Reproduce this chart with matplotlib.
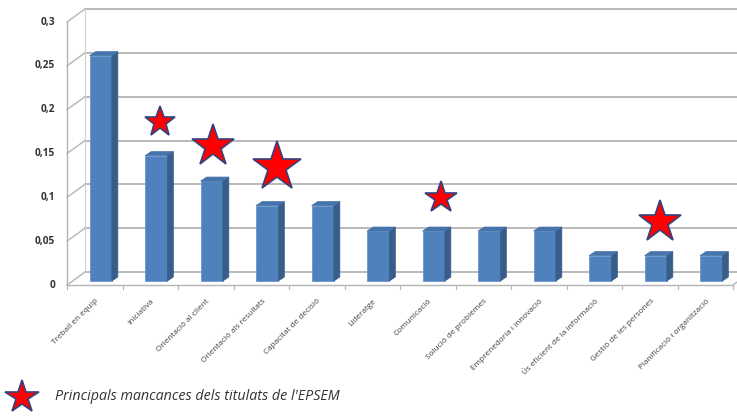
import matplotlib
matplotlib.use("Agg")
import matplotlib.pyplot as plt
import numpy as np
from matplotlib.transforms import offset_copy, IdentityTransform
from matplotlib.patches import Polygon
from matplotlib.lines import Line2D

# ---------------- data ----------------
categories = [
    "Treball en equip", "Iniciativa", "Orientació al client",
    "Orientació als resultats", "Capacitat de decisió", "Lideratge",
    "Comunicació", "Solució de problemes", "Emprenedoria i innovació",
    "Ús eficient de la informació", "Gestió de les persones",
    "Planificació i organització",
]
values = [0.257, 0.143, 0.114, 0.086, 0.086, 0.057, 0.057, 0.057, 0.057,
          0.029, 0.029, 0.029]
y_ticks = [0, 0.05, 0.1, 0.15, 0.2, 0.25, 0.3]
y_ticklabels = ["0", "0,05", "0,1", "0,15", "0,2", "0,25", "0,3"]

# stars marking main shortcomings (category position, height)
star_x = [1.18, 2.13, 3.28, 6.24, 10.18]
star_y = [0.1865, 0.158, 0.135, 0.0995, 0.072]
star_sizes = [23, 32, 37, 24, 32]
legend_label = "Principals mancances dels titulats de l'EPSEM"

# ---------------- style ----------------
FONT = ["Open Sans", "DejaVu Sans"]
plt.rcParams["font.family"] = FONT
W, H = 737, 417
fig = plt.figure(figsize=(W / 100, H / 100), dpi=100)
fig.patch.set_facecolor("white")
ax = fig.add_axes([67 / W, (H - 285) / H, 666 / W, (285 - 22) / H])
ax.set_xlim(-0.5, 11.5)
ax.set_ylim(0, 0.3)
ax.axis("off")

front_col = "#4F81BD"
side_col = "#385D8A"
top_col = "#4675AD"
grid_col = "#B4B4B4"
dx_wall, dy_wall = 18, 13
dx_bar0, dy_bar0 = 6, 4
dx_bar, dy_bar = 6, 4
bw = 0.4

fig.canvas.draw()
T = ax.transData
ID = IdentityTransform()


def disp(x, y):
    return np.array(T.transform((x, y)))


def dline(p, q, **kw):
    ln = Line2D([p[0], q[0]], [p[1], q[1]], transform=ID, clip_on=False,
                zorder=-1, **kw)
    fig.add_artist(ln)


# back wall gridlines + left wall diagonals
for v in y_ticks:
    f = disp(-0.5, v)
    b = f + (dx_wall, dy_wall)
    dline(b, (W + 5, b[1]), color=grid_col, lw=1.3)
    dline(f, b, color=grid_col, lw=1.0)
# left axis & back vertical
dline(disp(-0.5, 0), disp(-0.5, 0.3), color=grid_col, lw=1.0)
dline(disp(-0.5, 0) + (dx_wall, dy_wall), disp(-0.5, 0.3) + (dx_wall, dy_wall),
      color="#D0D0D0", lw=0.8)
# floor front edge
p0 = disp(-0.5, 0)
p1 = disp(11.5, 0)
dline(p0, p1, color=grid_col, lw=1.0)
dline(p1, p1 + (dx_wall, dy_wall), color=grid_col, lw=1.0)
for k in range(13):
    t = disp(-0.5 + k, 0)
    dline(t, t - (0, 4), color=grid_col, lw=0.8)

# y tick labels
ylab_tr = offset_copy(T, fig=fig, x=-12, y=0, units="dots")
for v, lab in zip(y_ticks, y_ticklabels):
    ax.text(-0.5, v, lab, transform=ylab_tr, ha="right", va="center",
            fontsize=7.3, color="#333333", fontweight="bold")

# bars (front faces)
xs = np.arange(len(categories))
bar_tr = offset_copy(T, fig=fig, x=dx_bar0, y=dy_bar0, units="dots")
ax.bar(xs, values, width=bw, color=front_col, edgecolor="#6A95CC",
       linewidth=0.6, transform=bar_tr, zorder=3, clip_on=False)
# side and top faces
for x, v in zip(xs, values):
    frb = disp(x + bw / 2, 0) + (dx_bar0, dy_bar0)
    frt = disp(x + bw / 2, v) + (dx_bar0, dy_bar0)
    flt = disp(x - bw / 2, v) + (dx_bar0, dy_bar0)
    d = np.array((dx_bar, dy_bar))
    side = Polygon([frb, frt, frt + d, frb + d], closed=True, transform=ID,
                   facecolor=side_col, edgecolor=side_col, lw=0.5, zorder=3)
    top = Polygon([flt, frt, frt + d, flt + d], closed=True, transform=ID,
                  facecolor=top_col, edgecolor="#3F6CA3", lw=0.5, zorder=3)
    fig.add_artist(side)
    fig.add_artist(top)

# x tick labels
xlab_tr = offset_copy(T, fig=fig, x=3, y=-15, units="dots")
for x, lab in zip(xs, categories):
    ax.text(x, 0, lab, transform=xlab_tr, rotation=45, rotation_mode="anchor",
            ha="right", va="center", fontsize=5.9, color="#404040")

# stars
for sx, sy, ss in zip(star_x, star_y, star_sizes):
    ax.plot([sx], [sy], marker="*", markersize=ss, markerfacecolor="#FF0000",
            markeredgecolor="#33437F", markeredgewidth=1.2, linestyle="none",
            zorder=5, clip_on=False)

# legend
fig.add_artist(Line2D([22 / W], [(H - 397) / H], marker="*", markersize=25,
                      markerfacecolor="#FF0000", markeredgecolor="#33437F",
                      markeredgewidth=1.2, linestyle="none",
                      transform=fig.transFigure))
fig.text(55 / W, (H - 397) / H, legend_label, ha="left", va="center",
         fontsize=10.3, style="italic", color="#333333")

fig.savefig("out.png", dpi=100, facecolor="white")
